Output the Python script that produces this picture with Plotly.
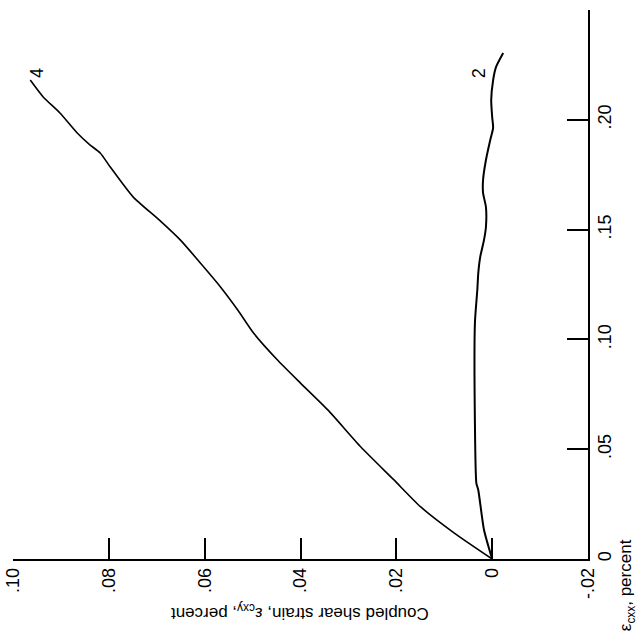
import plotly.graph_objects as go

# Curve 4: coupled shear strain (percent) vs eps_cxx (percent)
shear_4 = [0.0, 0.0079, 0.0149, 0.0205, 0.0274, 0.0343, 0.0400, 0.0448, 0.0498, 0.0531,
           0.0567, 0.0609, 0.0651, 0.0695, 0.0749, 0.0797, 0.0818, 0.0839, 0.0866, 0.0902,
           0.0937, 0.0964]
eps_4 = [0.0, 0.0118, 0.0237, 0.0360, 0.0510, 0.0679, 0.0801, 0.0906, 0.1029, 0.1134,
         0.1239, 0.1348, 0.1453, 0.1544, 0.1648, 0.1785, 0.1849, 0.1885, 0.1940, 0.2031,
         0.2104, 0.2181]

# Curve 2
shear_2 = [0.0, 0.0017, 0.0029, 0.0033, 0.0036, 0.0036, 0.0031, 0.0029, 0.0025, 0.0017,
           0.0013, 0.0013, 0.0019, 0.0019, 0.0013, 0.0004, -0.0002, 0.0000, 0.0002, -0.0002,
           -0.0008, -0.0023]
eps_2 = [0.0, 0.0132, 0.0314, 0.0346, 0.0619, 0.1075, 0.1225, 0.1302, 0.1375, 0.1453,
         0.1512, 0.1603, 0.1667, 0.1726, 0.1817, 0.1908, 0.1963, 0.2013, 0.2090, 0.2181,
         0.2240, 0.2304]

shear_ticks = [0.10, 0.08, 0.06, 0.04, 0.02, 0.0, -0.02]
shear_labels = [".10", ".08", ".06", ".04", ".02", "0", "-.02"]
eps_ticks = [0.0, 0.05, 0.10, 0.15, 0.20, 0.25]
eps_labels = ["0", ".05", ".10", ".15", ".20", ".25"]

curve_names = ["4", "2"]
label_shear = [0.095, 0.0027]
label_eps = [0.2213, 0.2213]

FONT = "Liberation Sans, Arial, sans-serif"

fig = go.Figure()
fig.add_trace(go.Scatter(x=shear_4, y=eps_4, mode="lines",
                         line=dict(color="black", width=1.6, shape="spline", smoothing=0.6),
                         showlegend=False))
fig.add_trace(go.Scatter(x=shear_2, y=eps_2, mode="lines",
                         line=dict(color="black", width=2, shape="spline", smoothing=0.6),
                         showlegend=False))

for name, sx, ey in zip(curve_names, label_shear, label_eps):
    fig.add_annotation(x=sx, y=ey, xref="x", yref="y", text=name, showarrow=False,
                       textangle=-90, font=dict(family=FONT, size=18, color="black"))

fig.add_annotation(x=0.499, y=-0.0965, xref="paper", yref="paper",
                   text="Coupled shear strain, ε<sub>cxy</sub>, percent",
                   showarrow=False, textangle=180, xanchor="center", yanchor="middle",
                   font=dict(family=FONT, size=17, color="black"))
fig.add_annotation(x=1.068, y=-0.135, xref="paper", yref="paper",
                   text="ε<sub>cxx</sub>, percent",
                   showarrow=False, textangle=-90, xanchor="center", yanchor="bottom",
                   font=dict(family=FONT, size=17, color="black"))

fig.update_layout(
    width=637, height=634,
    margin=dict(l=13, r=49, t=10, b=75, autoexpand=False),
    paper_bgcolor="white", plot_bgcolor="white",
    font=dict(family=FONT, size=18, color="black"),
    xaxis=dict(range=[0.10, -0.02], tickvals=shear_ticks, ticktext=shear_labels,
               tickangle=-90, ticks="inside", ticklen=21, tickwidth=1.5, tickcolor="black",
               showline=True, linecolor="black", linewidth=1.5, showgrid=False,
               zeroline=False, mirror=False, automargin=False),
    yaxis=dict(range=[0, 0.25], side="right", tickvals=eps_ticks, ticktext=eps_labels,
               tickangle=-90, ticks="inside", ticklen=21, tickwidth=1.5, tickcolor="black",
               showline=True, linecolor="black", linewidth=1.5, showgrid=False,
               zeroline=False, mirror=False, automargin=False),
)

fig.write_html("out.html", config={"displayModeBar": False},
               post_script="document.body.style.margin='0px';")
